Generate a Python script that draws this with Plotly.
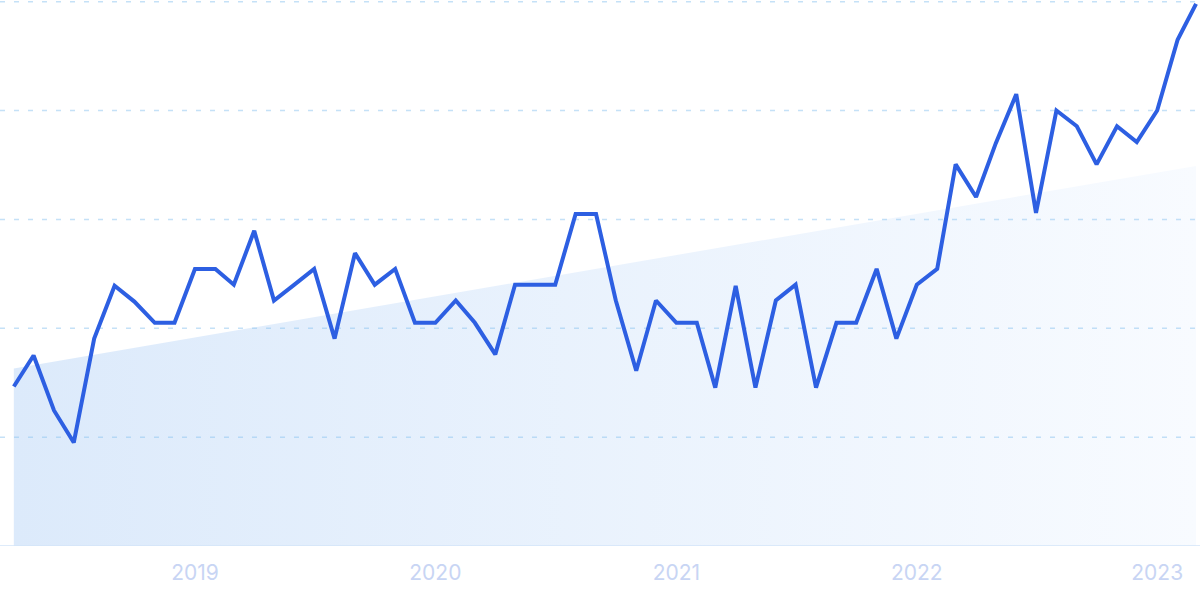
import plotly.graph_objects as go
import pandas as pd

# ---- data ----
start_month = "2018-04-01"
values = [29.3, 35.0, 24.9, 19.0, 38.1, 47.8, 44.9, 41.0, 41.0, 50.9,
          50.9, 48.0, 57.9, 45.1, 48.0, 50.9, 38.1, 53.8, 48.0, 50.9,
          41.0, 41.0, 45.1, 41.0, 35.2, 48.0, 48.0, 48.0, 61.0, 61.0,
          45.1, 32.2, 45.1, 41.0, 41.0, 29.1, 47.8, 29.1, 45.1, 48.0,
          29.1, 41.0, 41.0, 50.9, 38.1, 48.0, 50.9, 70.1, 64.1, 74.0,
          83.0, 61.2, 80.0, 77.1, 70.1, 77.1, 74.2, 80.0, 93.0, 99.6]
trend_values = [32.6, 69.8]
grid_values = [20, 40, 60, 80, 100]
tick_labels = ["2019", "2020", "2021", "2022", "2023"]

dates = pd.date_range(start_month, periods=len(values), freq="MS")
trend_dates = [dates[0], dates[-1]]
tick_vals = [pd.Timestamp(f"{y}-01-01") for y in tick_labels]
x_range = [pd.Timestamp("2018-03-11"), pd.Timestamp("2023-03-07")]

fig = go.Figure()

fig.add_trace(go.Scatter(
    x=trend_dates, y=trend_values, mode="lines",
    line=dict(width=0), fill="tozeroy",
    fillgradient=dict(type="horizontal",
                      colorscale=[[0, "rgb(220,234,251)"], [1, "rgb(248,251,255)"]]),
    hoverinfo="skip", showlegend=False,
))

# dashed gridlines drawn between the fill and the main line
for g in grid_values:
    fig.add_trace(go.Scatter(
        x=x_range, y=[g, g], mode="lines",
        line=dict(color="rgba(140,195,240,0.5)", width=1.5, dash="5px,9px"),
        hoverinfo="skip", showlegend=False, cliponaxis=False,
    ))

fig.add_trace(go.Scatter(
    x=dates, y=values, mode="lines",
    line=dict(color="#2D5FE2", width=4),
    showlegend=False, cliponaxis=False,
))

fig.add_shape(type="line", xref="paper", yref="y",
              x0=0, x1=1, y0=0, y1=0,
              line=dict(color="#D3E4F8", width=1.5), layer="above")

fig.update_layout(
    width=1200, height=599,
    margin=dict(l=0, r=0, t=0, b=53),
    paper_bgcolor="white", plot_bgcolor="white",
    font=dict(family="Inter, Roboto, sans-serif"),
    xaxis=dict(
        range=x_range,
        tickvals=tick_vals, ticktext=tick_labels,
        showgrid=False, zeroline=False, showline=False,
        tickfont=dict(size=21, color="#C8D5F4"),
        ticks="", ticklabelstandoff=12,
    ),
    yaxis=dict(
        range=[0, 100.3], showticklabels=False,
        zeroline=False, showline=False, showgrid=False,
    ),
)

fig.write_html("out.html", config={"displayModeBar": False},
               post_script="document.body.style.margin='0';document.body.style.overflow='hidden';")
